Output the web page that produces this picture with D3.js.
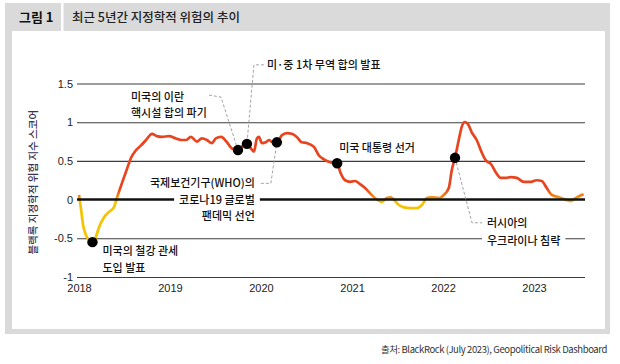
<!DOCTYPE html>
<html><head><meta charset="utf-8">
<script src="https://cdn.jsdelivr.net/npm/d3@7"></script>
<style>body{margin:0;background:#fff}</style>
</head><body><svg id="c" width="620" height="364"></svg>
<script>
// ---- data ----
const dates = ["2018-01-01","2018-01-09","2018-01-17","2018-01-29","2018-02-10","2018-02-24","2018-03-10","2018-03-22","2018-04-11","2018-05-01","2018-05-21","2018-06-02","2018-06-22","2018-07-13","2018-07-29","2018-08-18","2018-09-07","2018-09-27","2018-10-21","2018-11-10","2018-11-30","2018-12-28",
"2019-01-25","2019-02-14","2019-03-06","2019-03-26","2019-04-19","2019-05-09","2019-05-29","2019-06-18","2019-07-04","2019-07-25","2019-08-18","2019-09-07","2019-10-01","2019-10-21","2019-11-06","2019-11-22","2019-12-04","2019-12-16","2019-12-24",
"2020-01-05","2020-01-21","2020-02-02","2020-02-18","2020-03-05","2020-03-25","2020-04-14","2020-05-04","2020-05-24","2020-06-13","2020-07-04","2020-08-01","2020-08-21","2020-09-10","2020-10-08","2020-11-02","2020-11-15","2020-12-04","2020-12-24",
"2021-01-13","2021-02-02","2021-02-22","2021-03-14","2021-04-11","2021-05-01","2021-05-20","2021-06-05","2021-06-17","2021-07-08","2021-07-28","2021-08-25","2021-09-18","2021-10-08","2021-10-28","2021-11-17","2021-12-15",
"2022-01-04","2022-01-24","2022-02-05","2022-02-18","2022-03-05","2022-03-17","2022-03-29","2022-04-10","2022-04-26","2022-05-16","2022-06-05","2022-06-21","2022-07-12","2022-08-01","2022-08-21","2022-09-10","2022-09-30","2022-10-24","2022-11-21","2022-12-19",
"2023-01-12","2023-02-01","2023-02-21","2023-03-13","2023-04-10","2023-05-08","2023-05-28","2023-06-17","2023-07-11","2023-07-19"];
const values = [0.06,-0.12,-0.32,-0.46,-0.52,-0.55,-0.48,-0.36,-0.23,-0.16,-0.10,0.02,0.21,0.40,0.54,0.64,0.70,0.77,0.85,0.82,0.81,0.82,
0.79,0.77,0.77,0.81,0.75,0.79,0.77,0.73,0.79,0.81,0.74,0.66,0.64,0.70,0.72,0.66,0.62,0.79,0.81,
0.73,0.74,0.77,0.74,0.74,0.83,0.86,0.85,0.81,0.74,0.73,0.68,0.57,0.52,0.48,0.47,0.35,0.25,0.23,
0.24,0.20,0.15,0.08,0.00,-0.03,0.02,0.03,0.00,-0.07,-0.10,-0.11,-0.11,-0.07,0.02,0.03,0.02,
0.06,0.15,0.38,0.54,0.77,0.94,1.00,0.98,0.87,0.77,0.61,0.51,0.46,0.35,0.28,0.28,0.29,0.28,0.23,0.23,
0.25,0.24,0.15,0.06,0.03,0.00,-0.02,0.02,0.06,0.07];
const eventDates = ["2018-02-24","2019-10-01","2019-11-06","2020-03-05","2020-11-02","2022-02-18"];
const eventValues = [-0.55,0.64,0.72,0.74,0.47,0.54];
const eventLabels = [["미국의 철강 관세","도입 발표"],["미국의 이란","핵시설 합의 파기"],["미·중 1차 무역 합의 발표"],["국제보건기구(WHO)의","코로나19 글로벌","팬데믹 선언"],["미국 대통령 선거"],["러시아의","우크라이나 침략"]];
const yTicks = [-1,-0.5,0,0.5,1,1.5];
const yTickLabels = ["-1","-0.5","0","0.5","1","1.5"];
const xTickLabels = ["2018","2019","2020","2021","2022","2023"];
const titleNum = "그림 1";
const titleText = "최근 5년간 지정학적 위험의 추이";
const yTitle = "블랙록 지정학적 위험 지수 스코어";
const source = "출처: BlackRock (July 2023), Geopolitical Risk Dashboard";

// ---- drawing ----
const svg = d3.select("#c");
const KR = "'Noto Sans CJK KR','Noto Sans',sans-serif";
const AR = "'Liberation Sans',Arial,sans-serif";
const parse = d3.timeParse("%Y-%m-%d");
const data = dates.map((d,i)=>({d:parse(d), v:values[i]}));

// frame
svg.append("rect").attr("x",5).attr("y",3).attr("width",605).attr("height",331).attr("fill","#dadada");
svg.append("rect").attr("x",12).attr("y",31).attr("width",593).attr("height",298).attr("fill","#fff");
svg.append("rect").attr("x",61).attr("y",3).attr("width",2.5).attr("height",28).attr("fill","#fff");
svg.append("text").attr("x",19).attr("y",22).attr("font-family",KR).attr("font-weight",700).attr("font-size",13).attr("fill","#111").text(titleNum);
svg.append("text").attr("x",72).attr("y",22).attr("font-family",KR).attr("font-weight",500).attr("font-size",12.5).attr("fill","#222").text(titleText);
svg.append("text").attr("x",607).attr("y",353).attr("text-anchor","end").attr("font-family",KR).attr("font-size",9.5).attr("letter-spacing",-0.4).attr("fill","#333").text(source);

const x = d3.scaleTime().domain([parse("2018-01-01"), parse("2023-01-01")]).range([79,534]);
const y = d3.scaleLinear().domain([-1,1.5]).range([277,83.5]);
const gx0 = 77, gx1 = 585;

// grid + y axis
const yAxis = d3.axisLeft(y).tickValues(yTicks).tickFormat((d,i)=>yTickLabels[i]).tickSize(-(gx1-gx0)).tickPadding(4);
const ga = svg.append("g").attr("transform",`translate(${gx0},0)`).call(yAxis);
ga.select(".domain").remove();
ga.selectAll(".tick line").attr("stroke",d=>d===0?"none":"#3c3c3c").attr("stroke-width",1.1);
ga.selectAll(".tick text").attr("font-family",AR).attr("font-size",11).attr("fill","#222");

// x labels
const xAxis = d3.axisBottom(x).tickValues(xTickLabels.map(t=>parse(t+"-01-01"))).tickFormat((d,i)=>xTickLabels[i]).tickSize(0).tickPadding(7);
const gxA = svg.append("g").attr("transform",`translate(0,${y(-1)})`).call(xAxis);
gxA.select(".domain").remove();
gxA.selectAll(".tick text").attr("font-family",AR).attr("font-size",11).attr("fill","#222");

// y title
svg.append("text").attr("transform",`translate(37,${y(0.25)+2}) rotate(-90)`).attr("text-anchor","middle")
  .attr("font-family",KR).attr("font-weight",500).attr("font-size",10.5).attr("fill","#3a3352").text(yTitle);

// gradient
const defs = svg.append("defs");
const grad = defs.append("linearGradient").attr("id","lg").attr("gradientUnits","userSpaceOnUse")
  .attr("x1",0).attr("x2",0).attr("y1",y(0.14)).attr("y2",y(-0.04));
grad.append("stop").attr("offset",0).attr("stop-color","#e8441f");
grad.append("stop").attr("offset",0.55).attr("stop-color","#f08a12");
grad.append("stop").attr("offset",1).attr("stop-color","#f5c300");

const line = d3.line().x(d=>x(d.d)).y(d=>y(d.v)).curve(d3.curveMonotoneX);
svg.append("path").datum(data).attr("d",line).attr("fill","none").attr("stroke","url(#lg)").attr("stroke-width",2.7).attr("stroke-linejoin","round");

// zero line
svg.append("line").attr("x1",gx0).attr("x2",gx1).attr("y1",y(0)).attr("y2",y(0)).attr("stroke","#111").attr("stroke-width",2.5);

// events
const ev = eventDates.map((d,i)=>({px:x(parse(d)), py:y(eventValues[i]), lab:eventLabels[i]}));

// leader lines (dashed)
const leaders = [
  null,
  [[ev[1].px-29,ev[1].py-55],[ev[1].px-17,ev[1].py-53],[ev[1].px,ev[1].py]],
  [[ev[2].px+17,ev[2].py-79],[ev[2].px+7,ev[2].py-79],[ev[2].px,ev[2].py]],
  [[ev[3].px-16,ev[3].py+41],[ev[3].px-6,ev[3].py+41],[ev[3].px,ev[3].py]],
  null,
  [[ev[5].px,ev[5].py],[ev[5].px+17,ev[5].py+65],[ev[5].px+27,ev[5].py+65]]
];
leaders.forEach(p=>{ if(!p) return;
  svg.append("path").attr("d",d3.line()(p)).attr("fill","none").attr("stroke","#999").attr("stroke-width",0.9).attr("stroke-dasharray","3,2");
});

svg.selectAll("circle.ev").data(ev).join("circle").attr("class","ev")
  .attr("cx",d=>d.px).attr("cy",d=>d.py).attr("r",5.2).attr("fill","#000");

// labels: [x, firstBaseline, anchor, lineHeight, bg line index]
const labPos = [
  [ev[0].px+10, ev[0].py+13, "start", 17, -1],
  [ev[1].px-107, ev[1].py-49, "start", 16, -1],
  [ev[2].px+20, ev[2].py-75, "start", 16, -1],
  [ev[3].px-22, ev[3].py+45, "end", 16.5, 1],
  [ev[4].px+2, ev[4].py-11, "start", 16, -1],
  [ev[5].px+32, ev[5].py+69, "start", 18, 1]
];
ev.forEach((e,i)=>{
  const [lx,ly,anc,lh,bgi] = labPos[i];
  const g = svg.append("g");
  e.lab.forEach((t,j)=>{
    const tx = g.append("text").attr("x",lx).attr("y",ly+j*lh).attr("text-anchor",anc)
      .attr("font-family",KR).attr("font-weight",500).attr("font-size",11).attr("fill","#111").text(t);
    if(j===bgi){
      const bb = tx.node().getBBox();
      g.insert("rect","text").attr("x",bb.x-5).attr("y",bb.y).attr("width",bb.width+10).attr("height",bb.height).attr("fill","#fff");
    }
  });
});
</script></body></html>
